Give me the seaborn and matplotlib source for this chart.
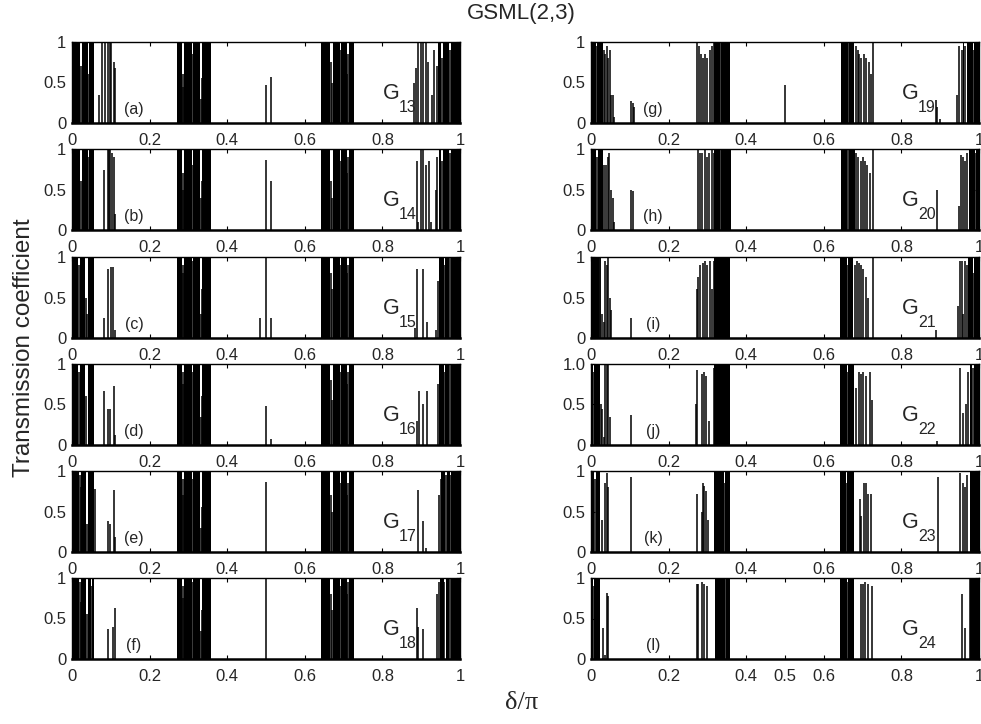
import matplotlib
matplotlib.use("Agg")
import matplotlib.pyplot as plt
import seaborn as sns

# ---------------- data ----------------
panel_tags = ["(a)", "(b)", "(c)", "(d)", "(e)", "(f)",
              "(g)", "(h)", "(i)", "(j)", "(k)", "(l)"]
generations = ["13", "14", "15", "16", "17", "18",
               "19", "20", "21", "22", "23", "24"]

x_ticks = [0, 0.2, 0.4, 0.6, 0.8, 1]
x_tick_labels = ["0", "0.2", "0.4", "0.6", "0.8", "1"]
x_ticks_last = [0, 0.2, 0.4, 0.5, 0.6, 0.8, 1]
x_tick_labels_last = ["0", "0.2", "0.4", "0.5", "0.6", "0.8", "1"]
y_ticks = [0, 0.5, 1]
y_tick_labels = ["0", "0.5", "1"]
y_tick_labels_j = ["0", "0.5", "1.0"]

# G13
a_bands = [(0.000, 0.021), (0.026, 0.040), (0.044, 0.057), (0.270, 0.283), (0.289, 0.309),
           (0.313, 0.330), (0.336, 0.358), (0.641, 0.666), (0.672, 0.690), (0.694, 0.708),
           (0.714, 0.727), (0.944, 0.952), (0.957, 0.972), (0.976, 1.000)]
a_spike_x = [0.023, 0.042, 0.070, 0.078, 0.084, 0.092, 0.097, 0.101, 0.108, 0.112,
             0.285, 0.287, 0.311, 0.332, 0.334, 0.499, 0.512, 0.668, 0.670, 0.692,
             0.710, 0.712, 0.882, 0.887, 0.893, 0.899, 0.905, 0.912, 0.918, 0.928,
             0.933, 0.940, 0.954, 0.974]
a_spike_h = [0.70, 0.60, 0.35, 1.00, 1.00, 1.00, 1.00, 1.00, 0.75, 0.68,
             0.45, 0.60, 0.85, 0.30, 0.55, 0.47, 0.57, 0.75, 0.50, 0.90,
             0.60, 0.85, 0.50, 0.68, 1.00, 1.00, 1.00, 1.00, 0.75, 0.35,
             0.90, 0.70, 0.80, 0.90]

# G14
b_bands = [(0.000, 0.020), (0.025, 0.040), (0.045, 0.057), (0.270, 0.283), (0.289, 0.309),
           (0.313, 0.330), (0.336, 0.358), (0.641, 0.666), (0.672, 0.690), (0.694, 0.708),
           (0.714, 0.727), (0.945, 0.952), (0.957, 0.972), (0.976, 1.000)]
b_spike_x = [0.022, 0.043, 0.083, 0.092, 0.096, 0.099, 0.104, 0.108, 0.111,
             0.285, 0.287, 0.311, 0.332, 0.334, 0.4996, 0.512, 0.668, 0.670, 0.692,
             0.710, 0.712, 0.888, 0.893, 0.899, 0.905, 0.912, 0.919, 0.925, 0.937,
             0.942, 0.954, 0.974]
b_spike_h = [0.60, 0.90, 0.74, 1.00, 1.00, 1.00, 0.95, 0.90, 0.20,
             0.50, 0.70, 0.80, 0.40, 0.60, 0.86, 0.60, 0.60, 0.40, 0.85,
             0.70, 0.90, 0.85, 0.10, 1.00, 1.00, 0.80, 0.85, 0.10, 0.50,
             0.90, 0.85, 0.95]

# G15
c_bands = [(0.000, 0.016), (0.020, 0.034), (0.040, 0.048), (0.050, 0.056), (0.270, 0.283),
           (0.289, 0.309), (0.313, 0.330), (0.336, 0.358), (0.641, 0.666), (0.672, 0.690),
           (0.694, 0.708), (0.714, 0.727), (0.947, 0.958), (0.962, 0.972), (0.976, 1.000)]
c_spike_x = [0.018, 0.036, 0.038, 0.049, 0.082, 0.094, 0.101, 0.105, 0.112, 0.285, 0.287,
             0.311, 0.332, 0.334, 0.485, 0.4996, 0.512, 0.668, 0.670, 0.692, 0.710, 0.712,
             0.884, 0.890, 0.905, 0.916, 0.938, 0.944, 0.960, 0.974]
c_spike_h = [0.90, 0.50, 0.30, 0.90, 0.25, 0.85, 0.88, 0.88, 0.10, 0.90, 0.80,
             0.95, 0.30, 0.60, 0.25, 1.00, 0.25, 0.80, 0.60, 0.90, 0.80, 0.90,
             0.12, 0.85, 0.85, 0.20, 0.10, 0.70, 0.90, 1.00]

# G16
d_bands = [(0.000, 0.016), (0.020, 0.034), (0.040, 0.048), (0.050, 0.056), (0.270, 0.283),
           (0.289, 0.309), (0.313, 0.330), (0.336, 0.358), (0.641, 0.666), (0.672, 0.690),
           (0.694, 0.708), (0.714, 0.727), (0.947, 0.958), (0.962, 0.972), (0.976, 1.000)]
d_spike_x = [0.018, 0.036, 0.049, 0.082, 0.094, 0.099, 0.107, 0.112, 0.285, 0.287, 0.311,
             0.332, 0.334, 0.4996, 0.512, 0.668, 0.670, 0.692, 0.710, 0.712, 0.888, 0.895,
             0.905, 0.916, 0.944, 0.960, 0.974]
d_spike_h = [0.90, 0.60, 0.90, 0.67, 0.45, 0.45, 0.73, 0.12, 0.90, 0.75, 0.90,
             0.35, 0.60, 0.48, 0.08, 0.80, 0.55, 0.90, 0.75, 0.90, 0.30, 0.67,
             0.50, 0.67, 0.75, 0.90, 1.00]

# G17
e_bands = [(0.000, 0.018), (0.024, 0.036), (0.040, 0.048), (0.050, 0.057), (0.270, 0.283),
           (0.289, 0.309), (0.313, 0.330), (0.336, 0.358), (0.641, 0.666), (0.672, 0.690),
           (0.694, 0.708), (0.714, 0.727), (0.952, 0.962), (0.966, 0.974), (0.978, 1.000)]
e_spike_x = [0.020, 0.022, 0.038, 0.049, 0.060, 0.094, 0.099, 0.107, 0.112, 0.285, 0.287,
             0.311, 0.332, 0.334, 0.4996, 0.668, 0.670, 0.692, 0.710, 0.712, 0.893, 0.904,
             0.912, 0.947, 0.950, 0.964, 0.976]
e_spike_h = [0.95, 0.80, 0.35, 0.95, 0.78, 0.38, 0.35, 0.77, 0.18, 0.90, 0.70,
             0.90, 0.30, 0.55, 0.86, 0.70, 0.50, 0.85, 0.70, 0.85, 0.77, 0.38,
             0.05, 0.70, 0.90, 0.95, 0.95]

# G18
f_bands = [(0.000, 0.018), (0.024, 0.036), (0.040, 0.048), (0.052, 0.057), (0.270, 0.283),
           (0.289, 0.309), (0.313, 0.330), (0.336, 0.358), (0.641, 0.666), (0.672, 0.690),
           (0.694, 0.708), (0.714, 0.727), (0.948, 0.958), (0.963, 0.972), (0.976, 1.000)]
f_spike_x = [0.020, 0.022, 0.038, 0.050, 0.094, 0.105, 0.112, 0.285, 0.287, 0.311, 0.332,
             0.334, 0.4996, 0.668, 0.670, 0.692, 0.710, 0.712, 0.888, 0.893, 0.905, 0.942,
             0.945, 0.960, 0.974]
f_spike_h = [0.95, 0.70, 0.55, 0.90, 0.37, 0.40, 0.63, 0.90, 0.75, 0.95, 0.35,
             0.60, 1.00, 0.80, 0.60, 0.90, 0.80, 0.95, 0.63, 0.40, 0.37, 0.80,
             0.95, 0.95, 1.00]

# G19
g_bands = [(0.000, 0.012), (0.016, 0.030), (0.318, 0.332), (0.336, 0.359), (0.644, 0.662),
           (0.665, 0.678), (0.958, 0.962), (0.968, 0.985), (0.988, 1.000)]
g_spike_x = [0.014, 0.033, 0.036, 0.040, 0.044, 0.048, 0.052, 0.056, 0.060, 0.104, 0.108,
             0.111, 0.273, 0.279, 0.284, 0.289, 0.294, 0.300, 0.306, 0.312, 0.316, 0.334,
             0.4996, 0.663, 0.682, 0.687, 0.692, 0.697, 0.703, 0.710, 0.716, 0.722, 0.727,
             0.889, 0.893, 0.899, 0.944, 0.949, 0.955, 0.965, 0.986]
g_spike_h = [0.95, 0.90, 0.85, 0.95, 0.80, 0.90, 0.35, 0.35, 0.08, 0.27, 0.25,
             0.20, 1.00, 0.95, 0.85, 0.80, 0.85, 0.80, 0.90, 0.95, 1.00, 1.00,
             0.47, 1.00, 0.95, 0.90, 0.85, 0.80, 0.85, 0.80, 0.75, 0.60, 1.00,
             0.28, 0.20, 0.05, 0.35, 0.95, 0.90, 0.95, 0.90]

# G20
h_bands = [(0.000, 0.014), (0.018, 0.032), (0.318, 0.332), (0.336, 0.360), (0.644, 0.660),
           (0.664, 0.680), (0.974, 0.990), (0.993, 1.000)]
h_spike_x = [0.016, 0.034, 0.038, 0.043, 0.047, 0.052, 0.056, 0.059, 0.103, 0.107, 0.275,
             0.281, 0.287, 0.293, 0.299, 0.305, 0.311, 0.316, 0.334, 0.662, 0.683, 0.689,
             0.695, 0.700, 0.706, 0.712, 0.718, 0.727, 0.893, 0.948, 0.953, 0.958, 0.963,
             0.968, 0.991]
h_spike_h = [0.90, 0.80, 0.80, 0.90, 0.95, 0.50, 0.40, 0.10, 0.50, 0.48, 1.00,
             0.95, 0.95, 1.00, 0.90, 0.95, 1.00, 0.95, 1.00, 1.00, 0.95, 0.90,
             0.85, 0.90, 0.85, 0.80, 0.70, 1.00, 0.50, 0.30, 0.93, 0.90, 0.85,
             0.95, 0.95]

# G21
i_bands = [(0.000, 0.020), (0.318, 0.358), (0.641, 0.660), (0.663, 0.676), (0.972, 0.984),
           (0.988, 1.000)]
i_spike_x = [0.022, 0.024, 0.028, 0.033, 0.037, 0.041, 0.044, 0.048, 0.051, 0.103, 0.273,
             0.277, 0.282, 0.288, 0.294, 0.300, 0.306, 0.312, 0.316, 0.661, 0.680, 0.685,
             0.690, 0.696, 0.702, 0.708, 0.714, 0.727, 0.890, 0.946, 0.950, 0.955, 0.960,
             0.965, 0.969, 0.986]
i_spike_h = [1.00, 1.00, 0.30, 0.20, 0.95, 0.90, 1.00, 0.50, 0.35, 0.25, 0.60,
             0.75, 0.90, 0.92, 0.95, 0.90, 0.95, 0.60, 0.95, 0.90, 0.90, 0.95,
             0.92, 0.90, 0.85, 0.75, 0.50, 1.00, 0.10, 0.40, 0.95, 0.95, 0.30,
             0.95, 0.90, 0.80]

# G22
j_bands = [(0.000, 0.005), (0.008, 0.024), (0.318, 0.358), (0.641, 0.660), (0.663, 0.678),
           (0.976, 0.983), (0.988, 1.000)]
j_spike_x = [0.006, 0.026, 0.028, 0.033, 0.037, 0.041, 0.045, 0.050, 0.103, 0.271, 0.274,
             0.286, 0.291, 0.297, 0.303, 0.316, 0.661, 0.684, 0.692, 0.697, 0.702, 0.708,
             0.718, 0.723, 0.892, 0.952, 0.958, 0.967, 0.972, 0.985]
j_spike_h = [0.90, 0.50, 0.45, 0.10, 1.00, 1.00, 1.00, 0.35, 0.37, 0.50, 0.92,
             0.88, 0.90, 0.85, 0.30, 0.95, 0.90, 0.70, 0.90, 0.88, 0.90, 0.85,
             0.90, 0.55, 0.05, 0.95, 0.40, 0.50, 0.90, 0.95]

# G23
k_bands = [(0.000, 0.008), (0.012, 0.024), (0.318, 0.343), (0.346, 0.358), (0.641, 0.658),
           (0.661, 0.678), (0.976, 1.000)]
k_spike_x = [0.010, 0.028, 0.037, 0.041, 0.045, 0.104, 0.274, 0.286, 0.288, 0.292, 0.297,
             0.302, 0.344, 0.659, 0.693, 0.697, 0.703, 0.708, 0.714, 0.722, 0.894, 0.952,
             0.958, 0.965, 0.970]
k_spike_h = [0.90, 0.40, 0.85, 0.98, 0.80, 0.93, 0.72, 0.50, 0.85, 0.82, 0.75,
             0.40, 0.85, 0.85, 0.65, 0.45, 0.85, 0.85, 0.72, 0.72, 0.93, 0.97,
             0.85, 0.80, 0.95]

# G24
l_bands = [(0.000, 0.005), (0.009, 0.022), (0.320, 0.346), (0.349, 0.357), (0.641, 0.660),
           (0.663, 0.678), (0.976, 1.000)]
l_spike_x = [0.007, 0.031, 0.035, 0.041, 0.045, 0.273, 0.277, 0.287, 0.292, 0.298, 0.347,
             0.661, 0.695, 0.700, 0.706, 0.714, 0.725, 0.955, 0.963, 0.978]
l_spike_h = [0.90, 0.38, 0.05, 0.82, 0.78, 0.92, 0.92, 0.95, 0.93, 0.90, 1.00,
             0.95, 0.93, 0.93, 0.95, 0.93, 0.90, 0.80, 0.38, 1.00]

panel_data = [
    (a_bands, a_spike_x, a_spike_h), (b_bands, b_spike_x, b_spike_h),
    (c_bands, c_spike_x, c_spike_h), (d_bands, d_spike_x, d_spike_h),
    (e_bands, e_spike_x, e_spike_h), (f_bands, f_spike_x, f_spike_h),
    (g_bands, g_spike_x, g_spike_h), (h_bands, h_spike_x, h_spike_h),
    (i_bands, i_spike_x, i_spike_h), (j_bands, j_spike_x, j_spike_h),
    (k_bands, k_spike_x, k_spike_h), (l_bands, l_spike_x, l_spike_h),
]

# ---------------- style ----------------
sns.set_style("ticks", {
    "xtick.direction": "in", "ytick.direction": "in",
    "axes.edgecolor": "black", "axes.linewidth": 1.0,
})
plt.rcParams["font.family"] = ["Liberation Sans", "DejaVu Sans"]
plt.rcParams["xtick.major.size"] = 3
plt.rcParams["ytick.major.size"] = 3

W, H = 981, 724
fig = plt.figure(figsize=(W / 100, H / 100), dpi=100)

col_left_px = [72, 591]
ax_w_px = 388
row_top_px = [42, 149, 257, 364, 471, 578]
ax_h_px = 81

for idx, (bands, sx, sh) in enumerate(panel_data):
    col = idx // 6
    row = idx % 6
    left = col_left_px[col] / W
    bottom = 1 - (row_top_px[row] + ax_h_px) / H
    ax = fig.add_axes([left, bottom, ax_w_px / W, ax_h_px / H])

    for (s, e) in bands:
        ax.axvspan(s, e, color="black", lw=0)
    ax.vlines(sx, 0, sh, color="black", lw=1.1)

    ax.set_xlim(0, 1)
    ax.set_ylim(0, 1)
    if idx == 11:
        ax.set_xticks(x_ticks_last)
        ax.set_xticklabels(x_tick_labels_last)
    else:
        ax.set_xticks(x_ticks)
        ax.set_xticklabels(x_tick_labels)
    ax.set_yticks(y_ticks)
    ax.set_yticklabels(y_tick_labels_j if idx == 9 else y_tick_labels)
    ax.tick_params(axis="both", which="both", direction="in", top=True, right=True,
                   labelsize=12, length=3, width=0.8, color="black")
    ax.tick_params(axis="x", pad=7)
    ax.tick_params(axis="y", pad=4)
    for sp in ax.spines.values():
        sp.set_visible(True)
        sp.set_linewidth(1.0)
        sp.set_color("black")
    ax.spines["bottom"].set_linewidth(1.8)

    ax.text(0.16, 0.17, panel_tags[idx], transform=ax.transAxes,
            ha="center", va="center", fontsize=11.5)
    ax.text(0.822, 0.36, "G", transform=ax.transAxes,
            ha="center", va="center", fontsize=15.5)
    ax.text(0.866, 0.19, generations[idx], transform=ax.transAxes,
            ha="center", va="center", fontsize=11.5)

fig.text(521 / W, 1 - 14 / H, "GSML(2,3)", ha="center", va="center", fontsize=16)
fig.text(24 / W, 1 - 348 / H, "Transmission coefficient", rotation=90,
         ha="center", va="center", fontsize=17.5)
fig.text(522 / W, 1 - 703 / H, "δ/π", ha="center", va="center", fontsize=19,
         family=["Liberation Serif", "DejaVu Serif"])

fig.savefig("out.png", dpi=100)
